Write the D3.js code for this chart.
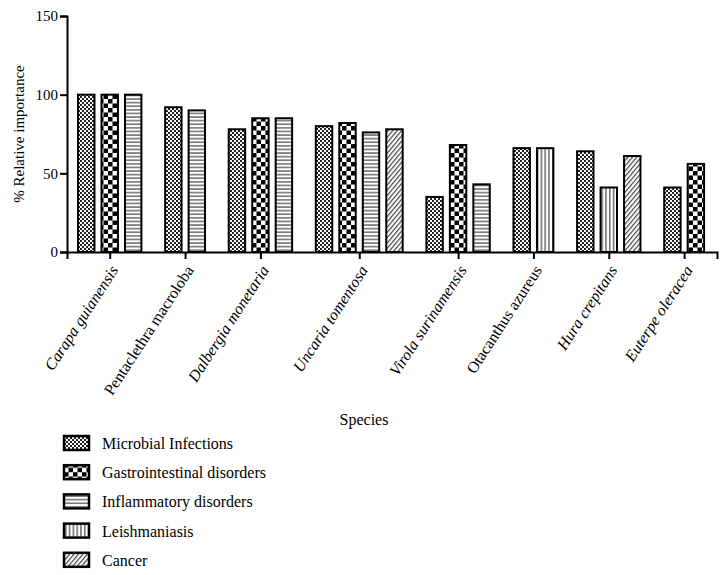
<!DOCTYPE html>
<html>
<head>
<meta charset="utf-8">
<script src="https://cdn.jsdelivr.net/npm/d3@7"></script>
<style>
  body { margin: 0; background: #fff; }
  svg text { font-family: "Liberation Serif", "DejaVu Serif", serif; fill: #000; }
</style>
</head>
<body>
<script>
// species on the x axis, italic flag per label
var species = ["Carapa guianensis", "Pentaclethra macroloba", "Dalbergia monetaria",
  "Uncaria tomentosa", "Virola surinamensis", "Otacanthus azureus",
  "Hura crepitans", "Euterpe oleracea"];
var italic = [true, false, true, true, true, false, true, true];

var series = ["Microbial Infections", "Gastrointestinal disorders",
  "Inflammatory disorders", "Leishmaniasis", "Cancer"];

// one value per species, null = no bar
var microbial    = [100, 92, 78, 80, 35, 66, 64, 41];
var gastro       = [100, null, 85, 82, 68, null, null, 56];
var inflammatory = [100, 90, 85, 76, 43, null, null, null];
var leish        = [null, null, null, null, null, 66, 41, null];
var cancer       = [null, null, null, 78, null, null, 61, null];

var yTicks = [0, 50, 100, 150];

var values = [microbial, gastro, inflammatory, leish, cancer];

var W = 727, H = 575;
var svg = d3.select("body").append("svg")
  .attr("width", W).attr("height", H);

// ---- patterns
var defs = svg.append("defs");
var pats = ["p0", "p1", "p2", "p3", "p4"];

var p0 = defs.append("pattern").attr("id", "p0").attr("patternUnits", "userSpaceOnUse")
  .attr("width", 4).attr("height", 4);
p0.append("rect").attr("width", 4).attr("height", 4).attr("fill", "#fff");
p0.append("rect").attr("width", 2).attr("height", 2).attr("fill", "#222");
p0.append("rect").attr("x", 2).attr("y", 2).attr("width", 2).attr("height", 2).attr("fill", "#222");

var p1 = defs.append("pattern").attr("id", "p1").attr("patternUnits", "userSpaceOnUse")
  .attr("width", 9).attr("height", 9);
p1.append("rect").attr("width", 9).attr("height", 9).attr("fill", "#fff");
p1.append("rect").attr("width", 4.5).attr("height", 4.5).attr("fill", "#000");
p1.append("rect").attr("x", 4.5).attr("y", 4.5).attr("width", 4.5).attr("height", 4.5).attr("fill", "#000");

var p2 = defs.append("pattern").attr("id", "p2").attr("patternUnits", "userSpaceOnUse")
  .attr("width", 4).attr("height", 3.6);
p2.append("rect").attr("width", 4).attr("height", 3.6).attr("fill", "#fff");
p2.append("rect").attr("y", 1.2).attr("width", 4).attr("height", 1.3).attr("fill", "#555");

var p3 = defs.append("pattern").attr("id", "p3").attr("patternUnits", "userSpaceOnUse")
  .attr("width", 3.8).attr("height", 4);
p3.append("rect").attr("width", 3.8).attr("height", 4).attr("fill", "#fff");
p3.append("rect").attr("x", 1.2).attr("width", 1.2).attr("height", 4).attr("fill", "#444");

var p4 = defs.append("pattern").attr("id", "p4").attr("patternUnits", "userSpaceOnUse")
  .attr("width", 3.4).attr("height", 6).attr("patternTransform", "rotate(40)");
p4.append("rect").attr("width", 3.4).attr("height", 6).attr("fill", "#fff");
p4.append("rect").attr("width", 1.2).attr("height", 6).attr("fill", "#444");

// ---- layout: bars packed per species, bigger gap between species
var barW = 0.7, groupGap = 0.71;
var bars = [], centers = [];
var u = 0;
species.forEach(function(sp, gi) {
  var us = [];
  values.forEach(function(arr, si) {
    if (arr[gi] != null) {
      bars.push({g: gi, s: si, u: u, v: arr[gi]});
      us.push(u);
      u += 1;
    }
  });
  centers.push(d3.mean(us));
  u += groupGap;
});
var lastU = u - 1 - groupGap;

var x = d3.scaleLinear()
  .domain([-barW / 2 - 0.47, lastU + barW / 2 + 0.55])
  .range([67, 717]);
var y = d3.scaleLinear().domain([0, 150]).range([252, 16]);
var bw = x(barW) - x(0);

// bars
svg.append("g").selectAll("rect").data(bars).enter().append("rect")
  .attr("x", function(d) { return x(d.u) - bw / 2; })
  .attr("y", function(d) { return y(d.v); })
  .attr("width", bw)
  .attr("height", function(d) { return y(0) - y(d.v); })
  .attr("fill", function(d) { return "url(#" + pats[d.s] + ")"; })
  .attr("stroke", "#000").attr("stroke-width", 2);

// y axis
var yAxis = svg.append("g").attr("transform", "translate(67,0)")
  .call(d3.axisLeft(y).tickValues(yTicks).tickSizeOuter(0).tickSize(7).tickPadding(2));
yAxis.selectAll("path, line").attr("stroke", "#000").attr("stroke-width", 2);
yAxis.selectAll("text").style("font-size", "15px");

// x axis
var xAxis = svg.append("g").attr("transform", "translate(0,252)")
  .call(d3.axisBottom(x).tickValues(centers).tickSizeOuter(0).tickSize(7)
    .tickFormat(function(d, i) { return species[i]; }));
xAxis.selectAll("path, line").attr("stroke", "#000").attr("stroke-width", 2);
xAxis.selectAll("text")
  .style("font-size", "16px")
  .style("font-style", function(d, i) { return italic[i] ? "italic" : "normal"; })
  .attr("text-anchor", "end")
  .attr("dy", "0.35em").attr("y", 0)
  .attr("transform", "translate(4,15) rotate(-57)");

// axis titles
svg.append("text").attr("transform", "translate(24,134) rotate(-90)")
  .attr("text-anchor", "middle").style("font-size", "15px").text("% Relative importance");
svg.append("text").attr("x", 364).attr("y", 425)
  .attr("text-anchor", "middle").style("font-size", "16px").text("Species");

// legend
var leg = svg.append("g").selectAll("g").data(series).enter().append("g")
  .attr("transform", function(d, i) { return "translate(64," + (443 + i * 29.2) + ")"; });
leg.append("rect").attr("x", 0).attr("y", -7).attr("width", 25).attr("height", 14)
  .attr("fill", function(d, i) { return "url(#" + pats[i] + ")"; })
  .attr("stroke", "#000").attr("stroke-width", 2.5);
leg.append("text").attr("x", 38).attr("y", 6).style("font-size", "16px").text(function(d) { return d; });
</script>
</body>
</html>
